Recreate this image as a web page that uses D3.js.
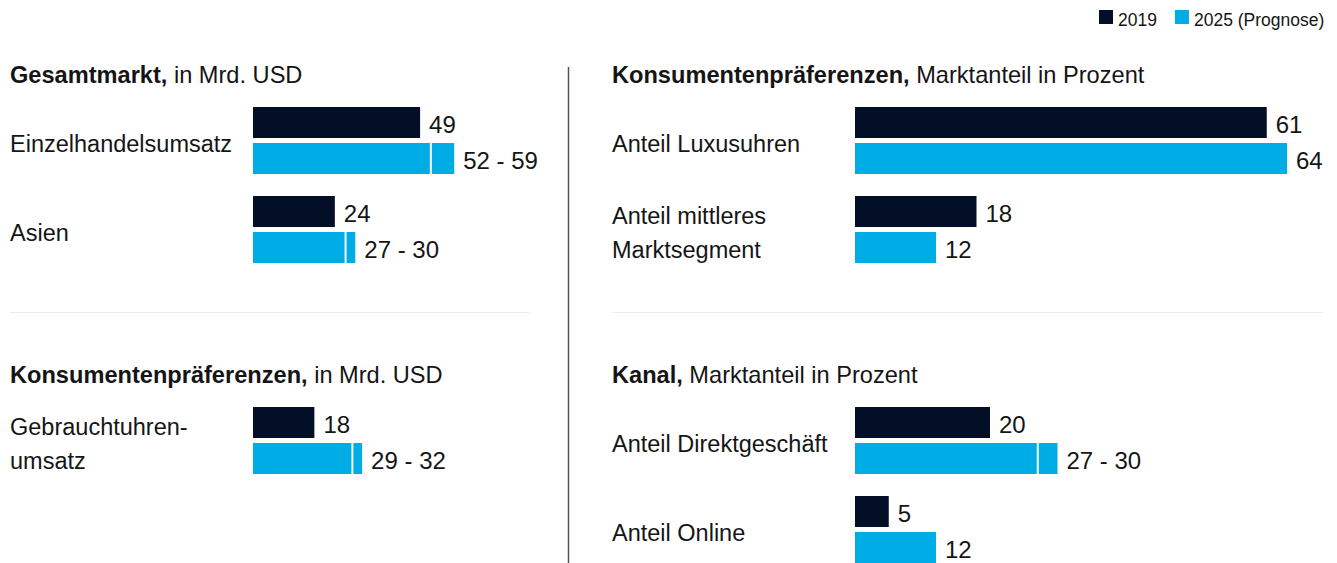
<!DOCTYPE html>
<html>
<head>
<meta charset="utf-8">
<script src="https://cdn.jsdelivr.net/npm/d3@7"></script>
<style>
  body { margin: 0; background: #fff; }
  svg text { font-family: "Liberation Sans", Arial, sans-serif; fill: #151515; }
</style>
</head>
<body>
<div id="chart"></div>
<script>
// data, panels in order: top-left, top-right, bottom-left, bottom-right
const panelBold = ["Gesamtmarkt,", "Konsumentenpräferenzen,", "Konsumentenpräferenzen,", "Kanal,"];
const panelUnit = ["in Mrd. USD", "Marktanteil in Prozent", "in Mrd. USD", "Marktanteil in Prozent"];
const categories = [
  ["Einzelhandelsumsatz", "Asien"],
  ["Anteil Luxusuhren", "Anteil mittleres\nMarktsegment"],
  ["Gebrauchtuhren-\numsatz"],
  ["Anteil Direktgeschäft", "Anteil Online"]
];
const values2019 = [[49, 24], [61, 18], [18], [20, 5]];
const low2025 = [[52, 27], [64, 12], [29], [27, 12]];
const high2025 = [[59, 30], [null, null], [32], [30, null]];
const seriesNames = ["2019", "2025 (Prognose)"];

const W = 1337, H = 563;
const colors = ["#020f26", "#00ace6"];

const svg = d3.select("#chart").append("svg").attr("width", W).attr("height", H);

// legend
const legend = svg.append("g").attr("transform", "translate(1099,10)");
let lx = 0;
seriesNames.forEach((s, i) => {
  legend.append("rect").attr("x", lx).attr("y", 0).attr("width", 14).attr("height", 14).attr("fill", colors[i]);
  const t = legend.append("text").attr("x", lx + 19).attr("y", 15.5).attr("font-size", 17.5).text(s);
  lx += 19 + t.node().getComputedTextLength() + 18;
});

// panel geometry
const panels = [
  { x0: 10, bx: 253, top: 107, scale: 3.41 },
  { x0: 612, bx: 855, top: 107, scale: 6.75 },
  { x0: 10, bx: 253, top: 407, scale: 3.41 },
  { x0: 612, bx: 855, top: 407, scale: 6.75 }
];

// divider lines
svg.append("line").attr("x1", 568.5).attr("x2", 568.5).attr("y1", 67).attr("y2", H)
  .attr("stroke", "#555").attr("stroke-width", 1.5);
svg.append("line").attr("x1", 10).attr("x2", 529).attr("y1", 312.5).attr("y2", 312.5)
  .attr("stroke", "#ebebeb").attr("stroke-width", 1);
svg.append("line").attr("x1", 612).attr("x2", 1323).attr("y1", 312.5).attr("y2", 312.5)
  .attr("stroke", "#ebebeb").attr("stroke-width", 1);

panels.forEach((p, pi) => {
  const g = svg.append("g");
  const x = d3.scaleLinear().domain([0, 100]).range([p.bx, p.bx + 100 * p.scale]);
  const y = d3.scaleBand().domain([0, 1]).range([p.top, p.top + 156]).paddingInner(22 / 89);
  const ys = d3.scaleBand().domain([0, 1]).range([0, y.bandwidth()]).paddingInner(5 / 36);

  // title
  const title = g.append("text").attr("x", p.x0).attr("y", p.top - 24).attr("font-size", 23.6);
  title.append("tspan").attr("font-weight", "bold").text(panelBold[pi]);
  title.append("tspan").text(" " + panelUnit[pi]);

  categories[pi].forEach((cat, ci) => {
    const gy = y(ci);
    const mid = gy + y.bandwidth() / 2;
    const lines = cat.split("\n");
    lines.forEach((ln, li) => {
      g.append("text").attr("x", p.x0)
        .attr("y", mid + 11 + (li - (lines.length - 1) / 2) * 34)
        .attr("font-size", 23.5).attr("fill", "#222").text(ln);
    });

    // 2019 bar
    const v = values2019[pi][ci];
    g.append("rect").attr("x", x(0)).attr("y", gy + ys(0))
      .attr("width", x(v) - x(0)).attr("height", ys.bandwidth()).attr("fill", colors[0]);
    g.append("text").attr("x", x(v) + 9).attr("y", gy + ys(0) + ys.bandwidth() / 2 + 10.5)
      .attr("font-size", 24).text(v);

    // 2025 bar (with range)
    const lo = low2025[pi][ci], hi = high2025[pi][ci];
    const end = hi == null ? lo : hi;
    g.append("rect").attr("x", x(0)).attr("y", gy + ys(1))
      .attr("width", x(end) - x(0)).attr("height", ys.bandwidth()).attr("fill", colors[1]);
    if (hi != null) {
      g.append("rect").attr("x", x(lo) - 0.5).attr("y", gy + ys(1))
        .attr("width", 2).attr("height", ys.bandwidth()).attr("fill", "#fff");
    }
    g.append("text").attr("x", x(end) + 9).attr("y", gy + ys(1) + ys.bandwidth() / 2 + 10.5)
      .attr("font-size", 24)
      .text(hi == null ? lo : lo + " - " + hi);
  });
});
</script>
</body>
</html>
